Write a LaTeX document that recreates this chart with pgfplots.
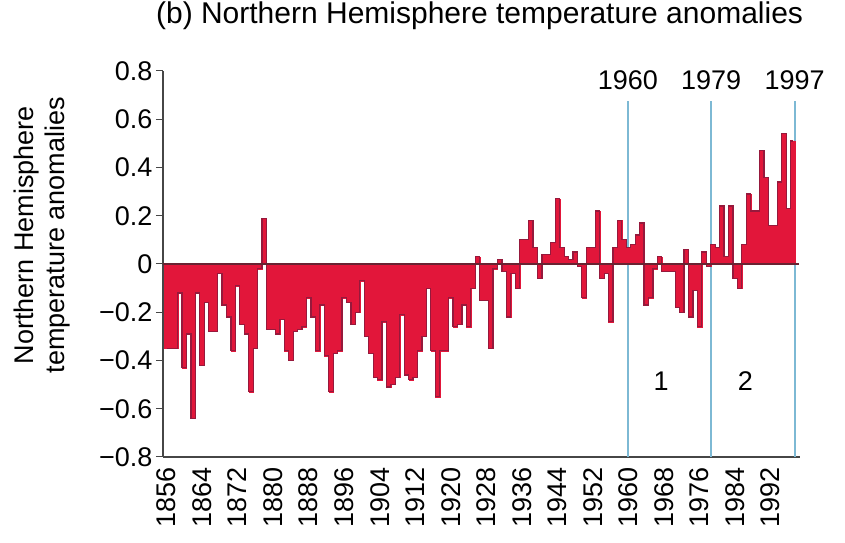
\documentclass[border=0pt]{standalone}
\usepackage{fontspec}
\setmainfont{Liberation Sans}
\usepackage{pgfplots}
\pgfplotsset{compat=1.18}
\usepackage{pgfplotstable}
\definecolor{barred}{RGB}{226,22,58}
\definecolor{edgered}{RGB}{150,25,60}
\definecolor{lineblue}{RGB}{125,185,212}
\definecolor{axisgray}{RGB}{70,70,70}
\definecolor{zerocol}{RGB}{105,35,50}

\pgfplotstableread{
year val
1856 -0.35
1857 -0.35
1858 -0.35
1859 -0.12
1860 -0.43
1861 -0.29
1862 -0.64
1863 -0.12
1864 -0.42
1865 -0.16
1866 -0.28
1867 -0.28
1868 -0.04
1869 -0.17
1870 -0.22
1871 -0.36
1872 -0.09
1873 -0.25
1874 -0.29
1875 -0.53
1876 -0.35
1877 -0.02
1878 0.19
1879 -0.27
1880 -0.27
1881 -0.29
1882 -0.23
1883 -0.36
1884 -0.40
1885 -0.28
1886 -0.27
1887 -0.26
1888 -0.14
1889 -0.22
1890 -0.36
1891 -0.17
1892 -0.38
1893 -0.53
1894 -0.37
1895 -0.36
1896 -0.14
1897 -0.16
1898 -0.25
1899 -0.20
1900 -0.07
1901 -0.30
1902 -0.37
1903 -0.47
1904 -0.48
1905 -0.24
1906 -0.51
1907 -0.50
1908 -0.47
1909 -0.21
1910 -0.46
1911 -0.48
1912 -0.47
1913 -0.36
1914 -0.30
1915 -0.10
1916 -0.36
1917 -0.55
1918 -0.36
1919 -0.36
1920 -0.14
1921 -0.26
1922 -0.25
1923 -0.17
1924 -0.26
1925 -0.10
1926 0.03
1927 -0.15
1928 -0.15
1929 -0.35
1930 -0.02
1931 0.02
1932 -0.03
1933 -0.22
1934 -0.04
1935 -0.10
1936 0.10
1937 0.10
1938 0.18
1939 0.07
1940 -0.06
1941 0.04
1942 0.04
1943 0.09
1944 0.27
1945 0.07
1946 0.03
1947 0.02
1948 0.05
1949 -0.01
1950 -0.14
1951 0.07
1952 0.07
1953 0.22
1954 -0.06
1955 -0.04
1956 -0.24
1957 0.07
1958 0.18
1959 0.10
1960 0.07
1961 0.08
1962 0.12
1963 0.17
1964 -0.17
1965 -0.14
1966 -0.02
1967 0.03
1968 -0.03
1969 -0.03
1970 -0.03
1971 -0.18
1972 -0.20
1973 0.06
1974 -0.22
1975 -0.11
1976 -0.26
1977 0.05
1978 -0.01
1979 0.08
1980 0.07
1981 0.24
1982 0.03
1983 0.24
1984 -0.06
1985 -0.10
1986 0.08
1987 0.29
1988 0.22
1989 0.22
1990 0.47
1991 0.36
1992 0.16
1993 0.16
1994 0.34
1995 0.54
1996 0.23
1997 0.51
}\nhdata

\begin{document}
\begin{tikzpicture}
\begin{axis}[
  name=ax,
  scale only axis,
  width=637pt, height=386pt,
  xmin=1855.2, xmax=1998.6,
  ymin=-0.8, ymax=0.8,
  axis x line*=bottom,
  axis y line*=left,
  axis line style={axisgray, line width=1.2pt},
  clip=false,
  xtick={1856,1864,1872,1880,1888,1896,1904,1912,1920,1928,1936,1944,1952,1960,1968,1976,1984,1992},
  xticklabels={1856,1864,1872,1880,1888,1896,1904,1912,1920,1928,1936,1944,1952,1960,1968,1976,1984,1992},
  x tick label style={rotate=90, anchor=east, font=\fontsize{27}{30}\selectfont},
  xtick style={draw=none},
  ytick={-0.8,-0.6,-0.4,-0.2,0,0.2,0.4,0.6,0.8},
  yticklabels={−0.8,−0.6,−0.4,−0.2,0,0.2,0.4,0.6,0.8},
  y tick label style={font=\fontsize{27}{30}\selectfont},
  ytick style={axisgray, line width=1pt},
  tick align=outside,
  major tick length=7pt,
  ylabel={Northern Hemisphere\\temperature anomalies},
  ylabel style={align=center, font=\fontsize{27}{31}\selectfont,
    at={(axis description cs:-0.19,0.575)}, anchor=center},
  title={(b) Northern Hemisphere temperature anomalies},
  title style={font=\fontsize{30}{34}\selectfont,
    at={(axis description cs:0.497,1)}, anchor=center, yshift=49pt},
]
\draw[lineblue, line width=1.8pt] (axis cs:1959.85,-0.8) -- (axis cs:1959.85,0.676);
\draw[lineblue, line width=1.8pt] (axis cs:1978.6,-0.8) -- (axis cs:1978.6,0.676);
\draw[lineblue, line width=1.8pt] (axis cs:1997.4,-0.8) -- (axis cs:1997.4,0.676);
\addplot[ybar, bar width=1, fill=barred, draw=barred, line width=0.3pt] table[x=year, y=val] {\nhdata};
\addplot[const plot mark mid, edgered, line width=1.2pt, no marks] table[x=year, y=val] {\nhdata};
\draw[zerocol, line width=1.5pt] (axis cs:1855.2,0) -- (axis cs:1998.3,0);
\node[font=\fontsize{27}{30}\selectfont] at (axis cs:1959.85,0.76) {1960};
\node[font=\fontsize{27}{30}\selectfont] at (axis cs:1978.6,0.76) {1979};
\node[font=\fontsize{27}{30}\selectfont] at (axis cs:1997.4,0.76) {1997};
\node[font=\fontsize{27}{30}\selectfont] at (axis cs:1967.35,-0.485) {1};
\node[font=\fontsize{27}{30}\selectfont] at (axis cs:1986.3,-0.485) {2};
\end{axis}
\pgfresetboundingbox
\path[use as bounding box] ([xshift=-163pt,yshift=-86pt]ax.south west) rectangle ([xshift=45pt,yshift=71pt]ax.north east);
\end{tikzpicture}
\end{document}
